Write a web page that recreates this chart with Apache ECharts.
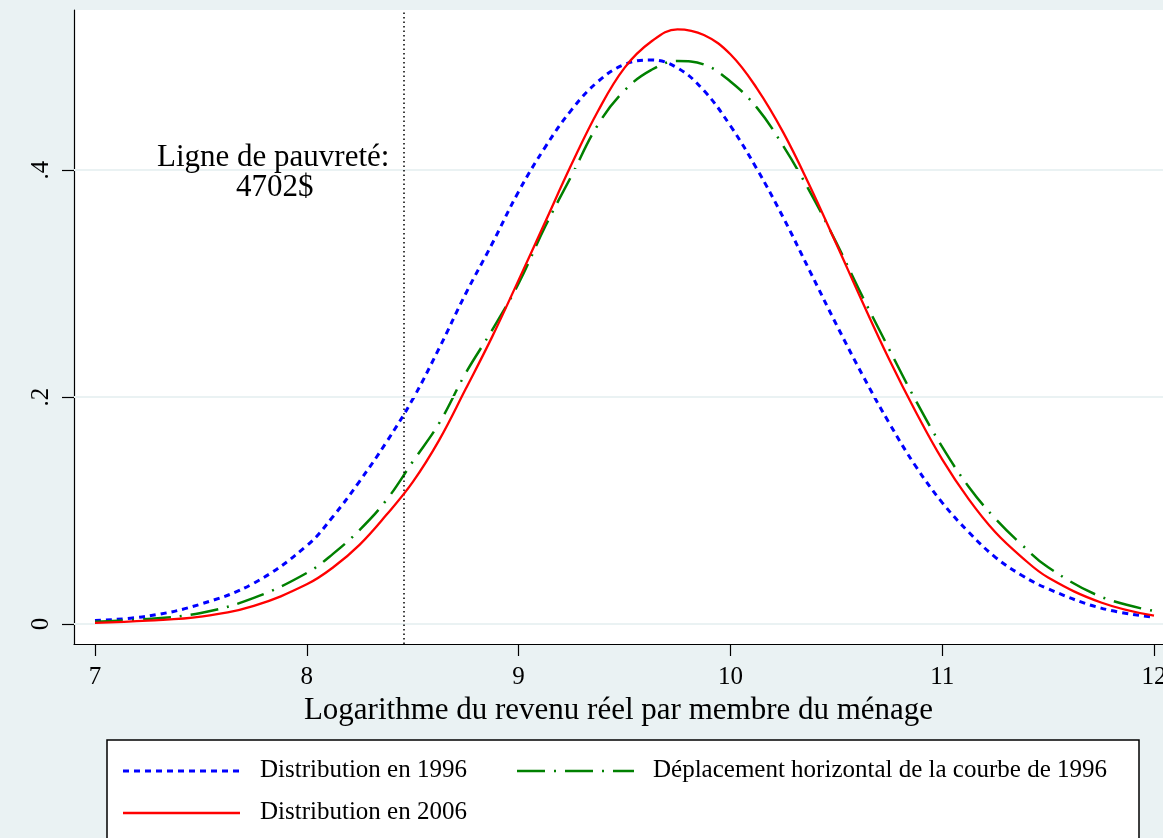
<!DOCTYPE html>
<html>
<head>
<meta charset="utf-8">
<script src="https://cdn.jsdelivr.net/npm/echarts@6/dist/echarts.min.js"></script>
<style>
  html, body { margin: 0; padding: 0; background: #eaf2f3; }
  #chart { width: 1163px; height: 838px; }
</style>
</head>
<body>
<div id="chart"></div>
<script>
// log income grid (x) and kernel density readings
const logIncome = [7.0, 7.25, 7.5, 7.75, 8.0, 8.125, 8.25, 8.375, 8.5, 8.625, 8.75, 8.875,
  9.0, 9.125, 9.25, 9.375, 9.5, 9.625, 9.75, 9.875, 10.0, 10.125, 10.25, 10.375,
  10.5, 10.625, 10.75, 10.875, 11.0, 11.125, 11.25, 11.375, 11.5, 11.75, 12.0];
const density1996 = [0.003, 0.007, 0.0176, 0.036, 0.069, 0.095, 0.126, 0.160, 0.198, 0.243, 0.291, 0.335,
  0.381, 0.420, 0.453, 0.478, 0.493, 0.497, 0.490, 0.470, 0.439, 0.401, 0.358, 0.311,
  0.264, 0.219, 0.177, 0.139, 0.107, 0.081, 0.059, 0.043, 0.031, 0.014, 0.006];
const densityShifted = [0.002, 0.0045, 0.0097, 0.023, 0.045, 0.062, 0.083, 0.109, 0.143, 0.177, 0.221, 0.259,
  0.300, 0.350, 0.395, 0.440, 0.470, 0.488, 0.496, 0.493, 0.478, 0.455, 0.421, 0.381,
  0.336, 0.288, 0.242, 0.197, 0.156, 0.121, 0.093, 0.070, 0.050, 0.024, 0.0115];
const density2006 = [0.001, 0.003, 0.0065, 0.016, 0.035, 0.050, 0.070, 0.096, 0.125, 0.162, 0.207, 0.253,
  0.303, 0.354, 0.405, 0.452, 0.490, 0.513, 0.524, 0.519, 0.502, 0.472, 0.433, 0.386,
  0.335, 0.283, 0.233, 0.187, 0.145, 0.110, 0.081, 0.059, 0.041, 0.019, 0.0073];

const xTicks = [7, 8, 9, 10, 11, 12];
const yTicks = [0, 0.2, 0.4];
const yTickLabels = ['0', '.2', '.4'];
const povertyLineUSD = 4702;

const names = [
  'Distribution en 1996',
  'Déplacement horizontal de la courbe de 1996',
  'Distribution en 2006'
];

const pairs = ys => logIncome.map((x, i) => [x, ys[i]]);
const serif = 'Liberation Serif, Times New Roman, serif';
const bg = '#eaf2f3';

const chart = echarts.init(document.getElementById('chart'));

chart.setOption({
  backgroundColor: bg,
  animation: false,
  textStyle: { fontFamily: serif, color: '#000' },
  grid: {
    left: 74, right: 0, top: 10, bottom: 194,
    outerBoundsMode: 'none', containLabel: false,
    show: true, backgroundColor: '#fff', borderWidth: 0
  },
  xAxis: {
    type: 'value',
    min: 6.9009, max: 12.0425,
    name: 'Logarithme du revenu réel par membre du ménage',
    nameLocation: 'middle',
    nameGap: 51,
    nameTextStyle: { fontFamily: serif, fontSize: 31, color: '#000' },
    axisLine: { show: true, onZero: false, lineStyle: { color: '#000', width: 1.2 } },
    axisTick: { show: true, length: 12, customValues: xTicks, lineStyle: { color: '#000', width: 1.2 } },
    axisLabel: {
      customValues: xTicks, margin: 21, hideOverlap: false,
      fontFamily: serif, fontSize: 25, color: '#000',
      formatter: v => String(v)
    },
    splitLine: { show: false }
  },
  yAxis: {
    type: 'value',
    min: -0.0176, max: 0.541,
    axisLine: { show: true, onZero: false, lineStyle: { color: '#000', width: 1.2 } },
    axisTick: { show: true, length: 12, customValues: yTicks, lineStyle: { color: '#000', width: 1.2 } },
    axisLabel: {
      customValues: yTicks, margin: 20, rotate: 90,
      fontFamily: serif, fontSize: 25, color: '#000',
      formatter: v => yTickLabels[yTicks.indexOf(Math.round(v * 10) / 10)] || ''
    },
    splitLine: { show: false }
  },
  series: [
    {
      // grid lines and poverty line
      type: 'line', data: [], z: 1, silent: true,
      markLine: {
        silent: true, symbol: 'none', animation: false,
        label: { show: false },
        data: [
          ...yTicks.map(v => ({ yAxis: v, lineStyle: { color: bg, width: 2, type: 'solid' } })),
          { xAxis: Math.log(povertyLineUSD), lineStyle: { color: '#000', width: 1.5, type: [1.5, 3] } }
        ]
      }
    },
    {
      name: names[0], type: 'line', smooth: 0.4, showSymbol: false, z: 3,
      data: pairs(density1996),
      lineStyle: { color: '#0000ff', width: 3, type: [6, 5] }
    },
    {
      name: names[1], type: 'line', smooth: 0.4, showSymbol: false, z: 4,
      data: pairs(densityShifted),
      lineStyle: { color: '#008000', width: 2.5, type: [28, 9, 2, 9] }
    },
    {
      name: names[2], type: 'line', smooth: 0.4, showSymbol: false, z: 5,
      data: pairs(density2006),
      lineStyle: { color: '#ff0000', width: 2.3 }
    }
  ],
  graphic: [
    {
      type: 'text', left: 157, top: 142, z: 10,
      style: { text: 'Ligne de pauvreté:', font: '31px ' + serif, fill: '#000' }
    },
    {
      type: 'text', left: 236, top: 172, z: 10,
      style: { text: povertyLineUSD + '$', font: '31px ' + serif, fill: '#000' }
    },
    {
      type: 'rect', z: 10,
      shape: { x: 107, y: 740, width: 1032, height: 120 },
      style: { fill: '#fff', stroke: '#000', lineWidth: 1.5 }
    },
    {
      type: 'line', z: 11,
      shape: { x1: 123, y1: 771, x2: 240, y2: 771 },
      style: { stroke: '#0000ff', lineWidth: 3, lineDash: [6, 5] }
    },
    {
      type: 'text', left: 260, top: 758, z: 11,
      style: { text: names[0], font: '25px ' + serif, fill: '#000' }
    },
    {
      type: 'line', z: 11,
      shape: { x1: 517, y1: 771, x2: 634, y2: 771 },
      style: { stroke: '#008000', lineWidth: 2.5, lineDash: [28, 9, 2, 9] }
    },
    {
      type: 'text', left: 653, top: 758, z: 11,
      style: { text: names[1], font: '25px ' + serif, fill: '#000' }
    },
    {
      type: 'line', z: 11,
      shape: { x1: 123, y1: 813, x2: 240, y2: 813 },
      style: { stroke: '#ff0000', lineWidth: 2.3 }
    },
    {
      type: 'text', left: 260, top: 800, z: 11,
      style: { text: names[2], font: '25px ' + serif, fill: '#000' }
    }
  ]
});
</script>
</body>
</html>
